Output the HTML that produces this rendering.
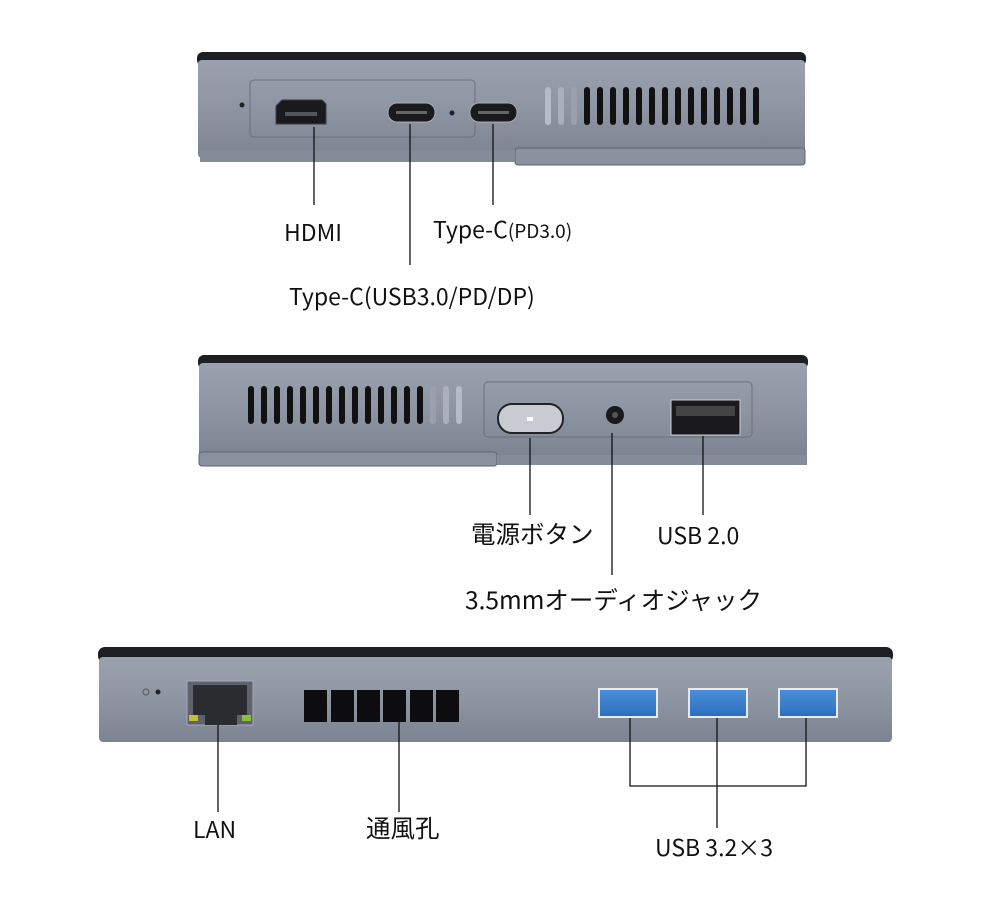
<!DOCTYPE html>
<html><head><meta charset="utf-8"><style>
body{margin:0;background:#fff;width:1000px;height:901px;overflow:hidden;position:relative;font-family:"Liberation Sans","Noto Sans CJK JP",sans-serif;}
.t{position:absolute;font-size:23px;color:#111;white-space:nowrap;font-family:"Noto Sans CJK JP","Liberation Sans",sans-serif;}
.j{font-size:24.5px}
svg{position:absolute;left:0;top:0}
</style></head><body>
<svg width="1000" height="901" viewBox="0 0 1000 901">
<defs>
<linearGradient id="body" x1="0" y1="0" x2="0" y2="1">
<stop offset="0" stop-color="#9aa2b0"/><stop offset="0.5" stop-color="#8d95a3"/><stop offset="1" stop-color="#7c8492"/>
</linearGradient>
<linearGradient id="blue" x1="0" y1="0" x2="0" y2="1"><stop offset="0" stop-color="#4a8fd8"/><stop offset="1" stop-color="#2d6fc0"/></linearGradient>
</defs>
<!-- Device 1 -->
<rect x="197" y="52" width="609" height="14" rx="6" fill="#1e1f22"/>
<rect x="198" y="60" width="607" height="98" rx="4" fill="url(#body)"/>
<rect x="515" y="148" width="290" height="17" rx="3" fill="#8a92a0" stroke="#5d6470"/>
<rect x="200" y="150" width="315" height="12" fill="#848c9a"/>
<rect x="250" y="80" width="225" height="57" rx="4" fill="none" stroke="#6a717d"/>
<circle cx="242" cy="105" r="2.5" fill="#222"/>
<path d="M276 106 l6-6 h40 l4 4 v20 h-50z" fill="#1a1a1c" stroke="#3a3d42"/>
<rect x="285" y="112" width="32" height="4" fill="#555"/>
<rect x="388" y="103" width="47" height="19" rx="9" fill="#1a1a1c" stroke="#aab"/>
<rect x="396" y="111" width="31" height="3" fill="#666"/>
<circle cx="452" cy="113" r="2.5" fill="#222"/>
<rect x="470" y="103" width="47" height="19" rx="9" fill="#1a1a1c" stroke="#aab"/>
<rect x="478" y="111" width="31" height="3" fill="#666"/>
<g fill="#111">
<rect x="545" y="87" width="6" height="38" rx="3" fill="#b5bcc6"/><rect x="558" y="87" width="6" height="38" rx="3" fill="#aab1bc"/><rect x="571" y="87" width="6" height="38" rx="3" fill="#9aa1ac"/>
<rect x="584" y="87" width="6" height="38" rx="3"/><rect x="597" y="87" width="6" height="38" rx="3"/><rect x="610" y="87" width="6" height="38" rx="3"/><rect x="623" y="87" width="6" height="38" rx="3"/><rect x="636" y="87" width="6" height="38" rx="3"/><rect x="649" y="87" width="6" height="38" rx="3"/><rect x="662" y="87" width="6" height="38" rx="3"/><rect x="675" y="87" width="6" height="38" rx="3"/><rect x="688" y="87" width="6" height="38" rx="3"/><rect x="701" y="87" width="6" height="38" rx="3"/><rect x="714" y="87" width="6" height="38" rx="3"/><rect x="727" y="87" width="6" height="38" rx="3"/><rect x="740" y="87" width="6" height="38" rx="3"/><rect x="753" y="87" width="6" height="38" rx="3"/>
</g>
<g stroke="#111" stroke-width="1.3">
<line x1="314" y1="127" x2="314" y2="205"/><line x1="410" y1="124" x2="410" y2="265"/><line x1="493" y1="124" x2="493" y2="205"/>
</g>
<!-- Device 2 -->
<rect x="198" y="355" width="610" height="14" rx="6" fill="#1e1f22"/>
<rect x="199" y="363" width="608" height="95" rx="4" fill="url(#body)"/>
<rect x="199" y="452" width="298" height="14" rx="3" fill="#8a92a0" stroke="#5d6470"/>
<rect x="497" y="455" width="310" height="10" fill="#848c9a"/>
<g fill="#111">
<rect x="248" y="386" width="6" height="38" rx="3"/><rect x="261" y="386" width="6" height="38" rx="3"/><rect x="274" y="386" width="6" height="38" rx="3"/><rect x="287" y="386" width="6" height="38" rx="3"/><rect x="300" y="386" width="6" height="38" rx="3"/><rect x="313" y="386" width="6" height="38" rx="3"/><rect x="326" y="386" width="6" height="38" rx="3"/><rect x="339" y="386" width="6" height="38" rx="3"/><rect x="352" y="386" width="6" height="38" rx="3"/><rect x="365" y="386" width="6" height="38" rx="3"/><rect x="378" y="386" width="6" height="38" rx="3"/><rect x="391" y="386" width="6" height="38" rx="3"/><rect x="404" y="386" width="6" height="38" rx="3"/><rect x="417" y="386" width="6" height="38" rx="3"/>
<rect x="430" y="386" width="6" height="38" rx="3" fill="#9aa1ac"/><rect x="443" y="386" width="6" height="38" rx="3" fill="#aab1bc"/><rect x="456" y="386" width="6" height="38" rx="3" fill="#b5bcc6"/>
</g>
<rect x="484" y="382" width="268" height="55" rx="4" fill="none" stroke="#6a717d"/>
<rect x="498" y="404" width="65" height="29" rx="14" fill="#c8ccd2" stroke="#222" stroke-width="2"/>
<rect x="527" y="417" width="6" height="4" fill="#fff"/>
<circle cx="615" cy="415" r="9" fill="#1a1a1c"/><circle cx="615" cy="415" r="3" fill="#555"/>
<rect x="671" y="400" width="69" height="35" fill="#1a1a1c" stroke="#ccd"/>
<rect x="676" y="406" width="59" height="10" fill="#444"/>
<g stroke="#111" stroke-width="1.3">
<line x1="530" y1="438" x2="530" y2="515"/><line x1="612" y1="433" x2="612" y2="575"/><line x1="703" y1="436" x2="703" y2="515"/>
</g>
<!-- Device 3 -->
<rect x="98" y="647" width="795" height="16" rx="7" fill="#1e1f22"/>
<rect x="99" y="657" width="793" height="85" rx="4" fill="url(#body)"/>
<circle cx="158" cy="692" r="2.5" fill="#222"/><circle cx="146" cy="692" r="3" fill="none" stroke="#555"/>
<rect x="187" y="681" width="66" height="44" fill="#5e636b" stroke="#aab"/>
<rect x="193" y="685" width="54" height="30" fill="#2a2c30"/>
<rect x="205" y="712" width="32" height="13" fill="#2a2c30"/>
<rect x="189" y="715" width="9" height="6" fill="#c8c030"/><rect x="242" y="715" width="9" height="6" fill="#8ac040"/>
<g fill="#0d0d0f">
<rect x="304" y="690" width="23" height="32"/><rect x="331" y="690" width="23" height="32"/><rect x="357" y="690" width="23" height="32"/><rect x="383" y="690" width="23" height="32"/><rect x="410" y="690" width="23" height="32"/><rect x="436" y="690" width="23" height="32"/>
</g>
<rect x="598" y="688" width="60" height="30" fill="#e8eaee"/><rect x="600" y="690" width="56" height="26" fill="url(#blue)"/>
<rect x="688" y="688" width="60" height="30" fill="#e8eaee"/><rect x="690" y="690" width="56" height="26" fill="url(#blue)"/>
<rect x="778" y="688" width="60" height="30" fill="#e8eaee"/><rect x="780" y="690" width="56" height="26" fill="url(#blue)"/>
<g stroke="#111" stroke-width="1.3" fill="none">
<line x1="218" y1="725" x2="218" y2="812"/><line x1="399" y1="722" x2="399" y2="812"/>
<polyline points="630,718 630,786 806,786 806,718"/><line x1="717" y1="718" x2="717" y2="828"/>
</g>
</svg>
<div class="t" style="left:284px;top:214px">HDMI</div>
<div class="t" style="left:433px;top:211px">Type-C<span style="font-size:19px">(PD3.0)</span></div>
<div class="t" style="left:289px;top:278px">Type-C(USB3.0/PD/DP)</div>
<div class="t j" style="left:471px;top:516px">電源ボタン</div>
<div class="t" style="left:657px;top:517px">USB 2.0</div>
<div class="t j" style="left:465px;top:582px">3.5mmオーディオジャック</div>
<div class="t" style="left:193px;top:811px">LAN</div>
<div class="t j" style="left:366px;top:810px">通風孔</div>
<div class="t" style="left:655px;top:829px">USB 3.2×3</div>
</body></html>
